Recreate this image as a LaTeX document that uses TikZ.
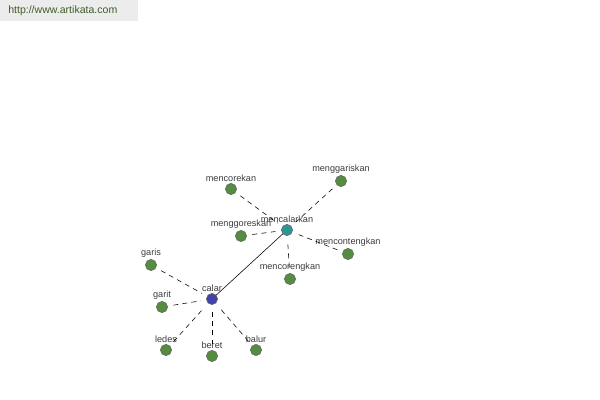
\documentclass[tikz,border=0pt]{standalone}
\usepackage{fontspec}
\setmainfont{Liberation Sans}
\usepackage{xcolor}
\usetikzlibrary{positioning}
\definecolor{akgreen}{RGB}{84,140,64}
\definecolor{akblue}{RGB}{66,66,168}
\definecolor{akteal}{RGB}{44,150,150}
\definecolor{akhead}{RGB}{236,236,236}
\definecolor{akurl}{RGB}{62,92,42}
\definecolor{aktext}{RGB}{60,60,60}
\tikzset{
  wnode/.style={circle, draw=black!60, fill=akgreen, minimum size=8pt,
                inner sep=0pt, label distance=0pt,
                label={[font=\fontsize{6.5}{7}\selectfont, text=aktext, inner sep=1pt]above:#1}},
  root/.style={wnode=#1, fill=akblue},
  hub/.style={wnode=#1, fill=akteal},
  syn/.style={dashed, dash pattern=on 3.5pt off 3pt, thin,
              shorten <=4pt, shorten >=4pt},
  main/.style={thin},
}

\begin{document}
\begin{tikzpicture}[x=0.025cm, y=-0.025cm]
\useasboundingbox (0,0) rectangle (600,400);
\fill[akhead] (0,0) rectangle (138,21);
\node[anchor=west, font=\fontsize{7.5}{9}\selectfont, text=akurl, inner sep=0pt] (url) at (8,11) {http://www.artikata.com};

% kata dasar dan turunannya
\node[root=calar] (calar) at (212,299) {};
\node[hub=mencalarkan] (mencalarkan) at (287,230) {};

\node[wnode=mencorekan] (mencorekan) at (231,189) {};
\node[wnode=menggariskan] (menggariskan) at (341,181) {};
\node[wnode=menggoreskan] (menggoreskan) at (241,236) {};
\node[wnode=mencontengkan] (mencontengkan) at (348,254) {};
\node[wnode=mencorengkan] (mencorengkan) at (290,279) {};

\node[wnode=garis] (garis) at (151,265) {};
\node[wnode=garit] (garit) at (162,307) {};
\node[wnode=ledes] (ledes) at (166,350) {};
\node[wnode=beret] (beret) at (212,356) {};
\node[wnode=balur] (balur) at (256,350) {};

\draw[main] (calar) -- (mencalarkan);
\foreach \w in {mencorekan,menggariskan,menggoreskan,mencontengkan,mencorengkan}
  \draw[syn] (\w) -- (mencalarkan);
\foreach \w in {garis,garit,ledes,beret,balur}
  \draw[syn] (\w) -- (calar);
\end{tikzpicture}
\end{document}
